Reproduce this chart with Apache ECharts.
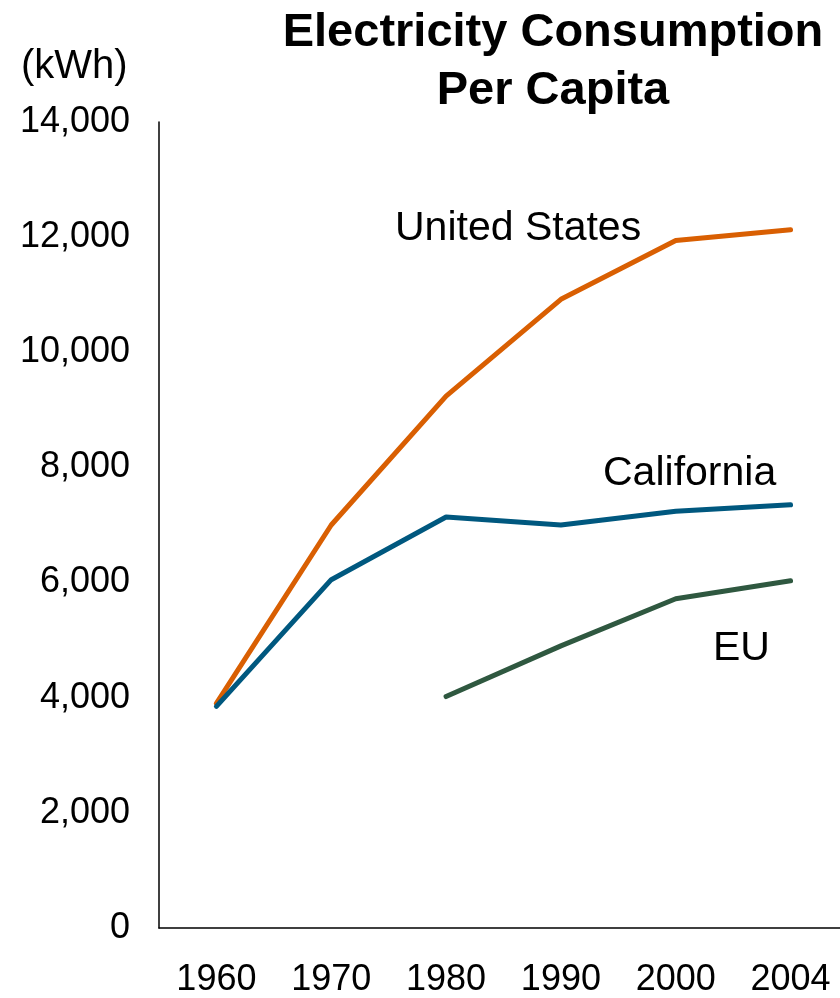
<!DOCTYPE html>
<html>
<head>
<meta charset="utf-8">
<script src="https://cdn.jsdelivr.net/npm/echarts@6/dist/echarts.min.js"></script>
<style>
  html, body { margin: 0; padding: 0; background: #fff; overflow: hidden; }
  /* plot runs past the right edge of the window, so the chart box is wider */
  #chart { width: 860px; height: 998px; }
</style>
</head>
<body>
<div id="chart"></div>
<script>
// data
const years = ['1960', '1970', '1980', '1990', '2000', '2004']
const unitedStates = [3900, 7000, 9240, 10920, 11940, 12130]
const california = [3850, 6050, 7140, 7000, 7240, 7350]
const eu = [null, null, 4020, 4900, 5720, 6030]
const yTicks = { min: 0, max: 14000, interval: 2000 }

const font = 'Liberation Sans, Arial, sans-serif'
const colors = ['#d95f02', '#00587f', '#2f5840']

const chart = echarts.init(document.getElementById('chart'))
const lineSeries = (name, data, color) => ({
  name: name,
  type: 'line',
  data: data,
  symbol: 'none',
  connectNulls: false,
  lineStyle: { width: 5, color: color, cap: 'round', join: 'round' },
  itemStyle: { color: color },
  animation: false
})

chart.setOption({
  color: colors,
  title: {
    text: 'Electricity Consumption\nPer Capita',
    left: 548,
    top: -1,
    textAlign: 'center',
    textStyle: { fontFamily: font, fontSize: 47, fontWeight: 'bold', color: '#000', lineHeight: 58 }
  },
  grid: { left: 159, right: 12, top: 122, bottom: 68 },
  xAxis: {
    type: 'category',
    data: years,
    boundaryGap: true,
    axisLine: { lineStyle: { color: '#000', width: 1.5 } },
    axisTick: { show: false },
    axisLabel: { color: '#000', fontFamily: font, fontSize: 36, margin: 34 }
  },
  yAxis: {
    type: 'value',
    min: yTicks.min,
    max: yTicks.max,
    interval: yTicks.interval,
    axisLine: { show: true, lineStyle: { color: '#000', width: 1.5 } },
    axisTick: { show: false },
    splitLine: { show: false },
    axisLabel: {
      color: '#000', fontFamily: font, fontSize: 36, margin: 29,
      formatter: v => v.toLocaleString('en-US')
    }
  },
  graphic: [
    { type: 'text', left: 21, top: 47, style: { text: '(kWh)', fontFamily: font, fontSize: 40, fill: '#000' } },
    { type: 'text', left: 395, top: 208, style: { text: 'United States', fontFamily: font, fontSize: 41, fill: '#000' } },
    { type: 'text', left: 603, top: 453, style: { text: 'California', fontFamily: font, fontSize: 41, fill: '#000' } },
    { type: 'text', left: 713, top: 628, style: { text: 'EU', fontFamily: font, fontSize: 41, fill: '#000' } }
  ],
  series: [
    lineSeries('United States', unitedStates, colors[0]),
    lineSeries('California', california, colors[1]),
    lineSeries('EU', eu, colors[2])
  ]
})
</script>
</body>
</html>
